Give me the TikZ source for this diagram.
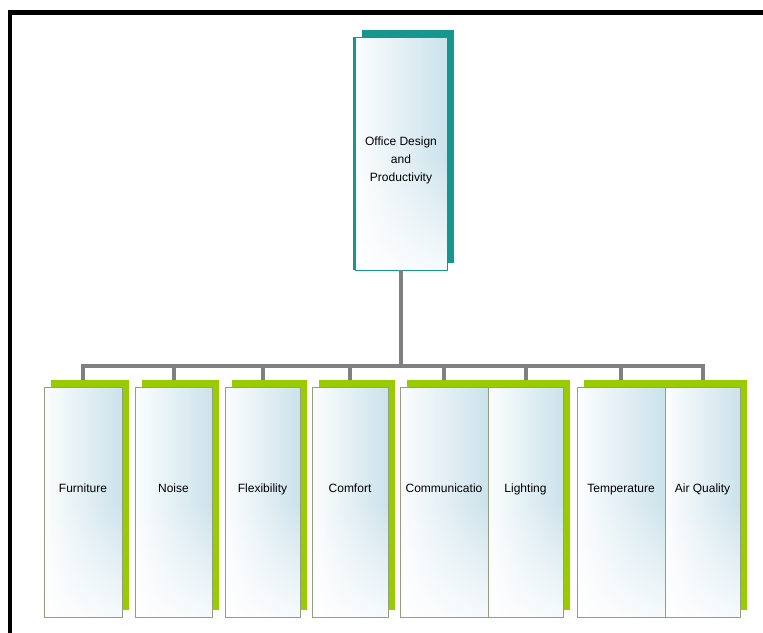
\documentclass[tikz,border=0pt]{standalone}
\usepackage{fontspec}
\setmainfont{Liberation Sans}
\usepackage{tikz}
\usetikzlibrary{backgrounds, fadings}
\definecolor{mylime}{RGB}{153,204,0}
\definecolor{myteal}{RGB}{22,150,142}
\definecolor{mybus}{RGB}{128,128,128}
\definecolor{myedge}{RGB}{150,158,128}
\definecolor{myblue}{RGB}{200,225,234}
\pgfdeclarehorizontalshading{panelshade}{100bp}{color(0bp)=(white); color(22bp)=(white);
  color(78bp)=(myblue); color(100bp)=(myblue!55!white)}
\tikzfading[name=panelfade, top color=transparent!100, bottom color=transparent!15,
  middle color=transparent!100]
\tikzset{
  panel/.style={rectangle, draw=myedge, line width=0.8pt, shading=panelshade,
    path picture={\fill[white, path fading=panelfade] (path picture bounding box.south west)
      rectangle (path picture bounding box.north east);},
    inner sep=0pt, font=\fontsize{12}{18}\selectfont},
  leaf/.style={panel, minimum height=230pt, text height=9pt, text depth=29pt},
  rootbox/.style={panel, draw=myteal, minimum width=92pt, minimum height=233pt,
    align=center, text height=59pt, text depth=3pt},
  limeshadow/.style={fill=mylime},
  tealshadow/.style={fill=myteal},
  connector/.style={line width=4pt, color=mybus}
}

\begin{document}
\begin{tikzpicture}[x=1pt, y=-1pt]
  \useasboundingbox (0,0) rectangle (763,632);
  % outer frame
  \draw[line width=4.5pt] (10,12.5) rectangle (800,700);

  % top box
  \node[rootbox] (root) at (401,153.5) {Office Design\\and\\Productivity};
  \draw[myteal, line width=3pt] (root.north west) -- (root.south west);

  % factors
  \node[leaf, minimum width=78pt] (furn) at (83,502) {Furniture};
  \node[leaf, minimum width=77pt] (noise) at (173.5,502) {Noise};
  \node[leaf, minimum width=75pt] (flex) at (262.5,502) {Flexibility};
  \node[leaf, minimum width=76pt] (comf) at (350,502) {Comfort};
  \node[leaf, minimum width=88pt] (comm) at (444,502) {Communicatio};
  \node[leaf, minimum width=75pt] (light) at (525.5,502) {Lighting};
  \node[leaf, minimum width=88pt] (temp) at (621,502) {Temperature};
  \node[leaf, minimum width=75pt] (air) at (702.5,502) {Air Quality};

  % shadows behind the boxes
  \begin{scope}[on background layer]
    \fill[tealshadow] ([xshift=7pt, yshift=7pt]root.south west) rectangle ([xshift=7pt, yshift=7pt]root.north east);
    \foreach \a/\b in {furn/furn, noise/noise, flex/flex, comf/comf, comm/light, temp/air} {
      \fill[limeshadow] ([xshift=7pt, yshift=7pt]\a.south west) rectangle ([xshift=7pt, yshift=7pt]\b.north east);
    }
  \end{scope}

  % tree lines
  \coordinate (hub) at (401,366);
  \draw[connector] (root.south) -- (hub);
  \foreach \n in {furn, noise, flex, comf, comm, light, temp, air} {
    \draw[connector] (hub) -| ([yshift=7pt]\n.north);
  }
\end{tikzpicture}
\end{document}
